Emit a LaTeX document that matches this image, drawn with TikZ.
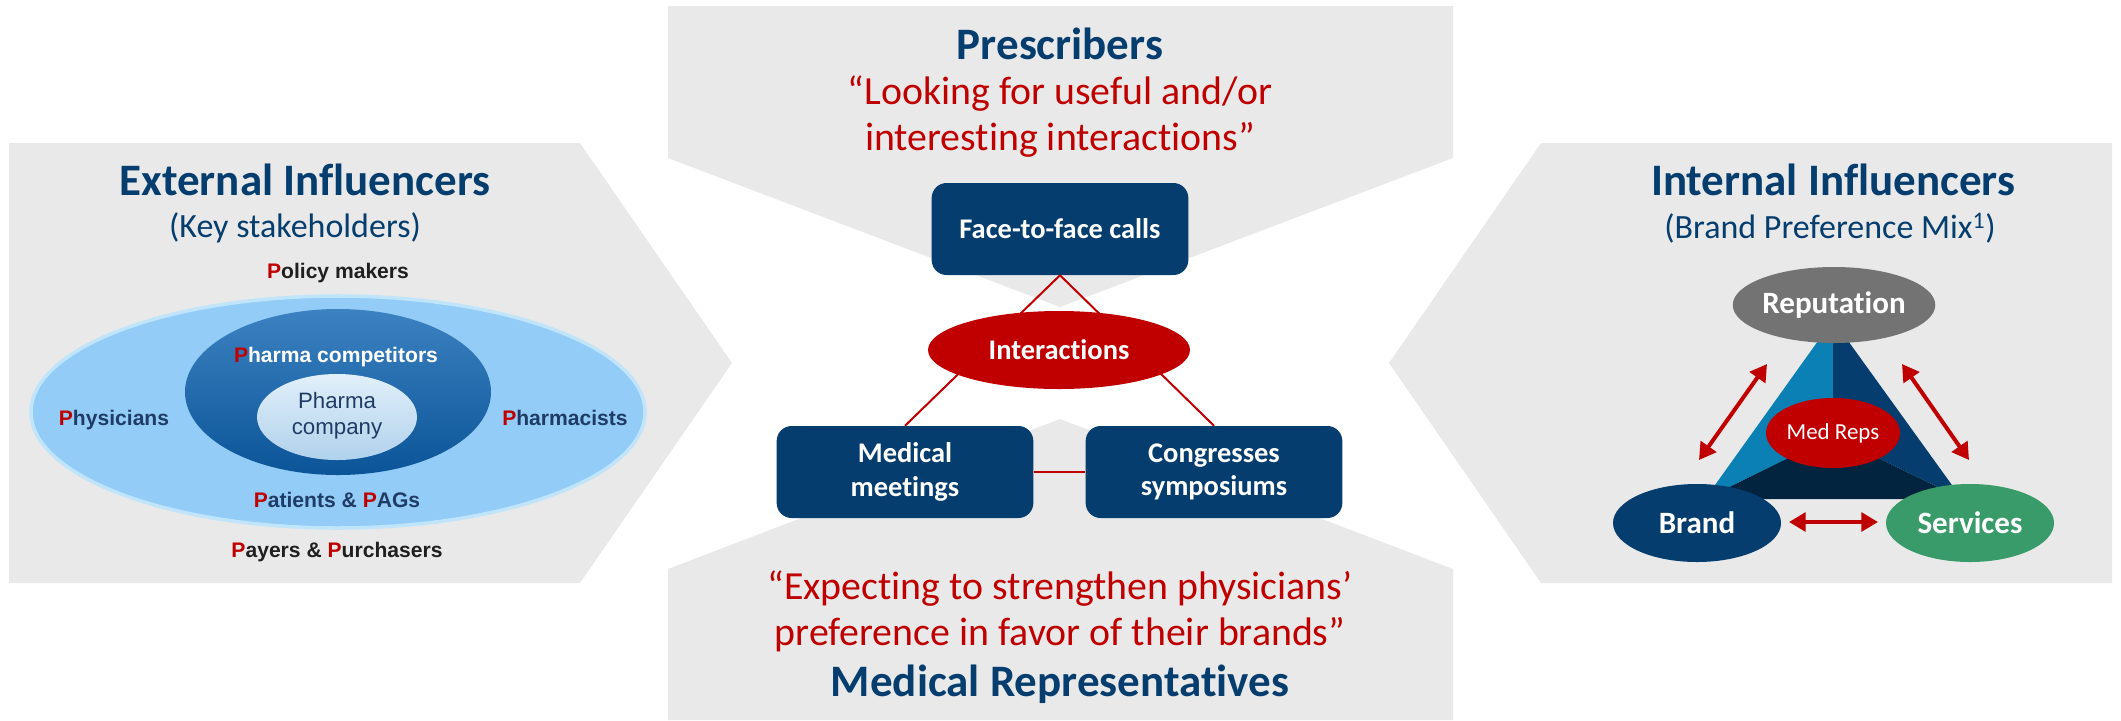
\documentclass[tikz,border=0pt]{standalone}
\usepackage{fontspec}
\setmainfont{Carlito}[Ligatures=NoCommon]
\newfontfamily\arialfont{Liberation Sans}
\usepackage{tikz}
\usetikzlibrary{shapes.geometric,arrows.meta,positioning}

\definecolor{navy}{RGB}{5,62,110}
\definecolor{brandred}{RGB}{192,0,0}
\definecolor{panelgray}{RGB}{233,233,233}
\definecolor{skyfill}{RGB}{146,204,247}
\definecolor{skyrim}{RGB}{192,229,251}
\definecolor{midblue}{RGB}{12,99,178}
\definecolor{coreblue}{RGB}{205,229,246}
\definecolor{inktext}{RGB}{31,60,102}
\definecolor{facetlight}{RGB}{10,128,180}
\definecolor{facetdark}{RGB}{2,36,63}
\definecolor{repgray}{RGB}{115,115,115}
\definecolor{servgreen}{RGB}{56,155,105}

\newcommand{\rp}[1]{\textcolor{brandred}{#1}}

\begin{document}
\begin{tikzpicture}[
  x=0.03cm, y=-0.03cm,
  panel/.style={fill=panelgray},
  headline/.style={font=\fontsize{38.4}{44}\selectfont\bfseries, text=navy},
  subline/.style={font=\fontsize{29}{34}\selectfont, text=navy},
  quote/.style={font=\fontsize{34}{39.3}\selectfont, text=brandred, align=center},
  callbox/.style={
    rectangle, rounded corners=0.45cm, fill=navy, text=white,
    minimum width=7.7cm, minimum height=2.76cm,
    align=center, font=\fontsize{24.3}{28.6}\selectfont\bfseries
  },
  link/.style={brandred, line width=1.7pt},
  stake/.style={font=\arialfont\fontsize{18}{20}\selectfont\bfseries},
  blob/.style={ellipse, inner sep=0pt, text=white},
  twoway/.style={{Triangle[length=0.5cm,width=0.56cm]}-{Triangle[length=0.5cm,width=0.56cm]}, brandred, line width=3.4pt}
]
\useasboundingbox (0,0) rectangle (2121,720);

% ---- Background panels ----
\fill[panel] (9,143) -- (580,143) -- (732,363) -- (580,583) -- (9,583) -- cycle;
\fill[panel] (2112,143) -- (1541,143) -- (1389,363) -- (1541,583) -- (2112,583) -- cycle;
\fill[panel] (668,6) -- (1453,6) -- (1453,158) -- (1060,307) -- (668,158) -- cycle;
\fill[panel] (668,720) -- (1453,720) -- (1453,569) -- (1060,419) -- (668,569) -- cycle;

% ---- External influencers ----
\node[headline] (exttitle) at (305,180) {External Influencers};
\node[subline] (extsub) at (295,228) {(Key stakeholders)};
\node[stake, text=black!88] (policy) at (338,273) {\rp{P}olicy makers};

\node[ellipse, fill=skyfill, draw=skyrim, line width=3pt,
      minimum width=18.42cm, minimum height=6.96cm] (outer) at (338,412) {};
\node[ellipse, top color=midblue!80!white, bottom color=midblue!85!black,
      minimum width=9.18cm, minimum height=4.98cm] (middle) at (338,392) {};
\node[ellipse, top color=coreblue!60!white, bottom color=coreblue!85!midblue,
      minimum width=4.8cm, minimum height=2.58cm] (core) at (337,417) {};

\node[stake, text=white] (rivals) at (336,357) {\rp{P}harma competitors};
\node[font=\arialfont\fontsize{19}{22.2}\selectfont, text=inktext, align=center]
      (company) at (337,416) {Pharma\\company};
\node[stake, text=inktext] (physicians) at (114,420) {\rp{P}hysicians};
\node[stake, text=inktext] (pharmacists) at (565,418) {\rp{P}harmacists};
\node[stake, text=inktext] (patients) at (337,500) {\rp{P}atients \& \rp{P}AGs};
\node[stake, text=black!88] (payers) at (337,552) {\rp{P}ayers \& \rp{P}urchasers};

% ---- Prescribers / medical representatives ----
\node[headline] (presc) at (1060,44) {Prescribers};
\node[quote] (quotetop) at (1060,117) {“Looking for useful and/or\\interesting interactions”};

\node[callbox] (face) at (1060,229) {Face-to-face calls};
\node[callbox] (medmeet) at (905,472) {Medical\\meetings};
\node[callbox] (congress) at (1214,472) {Congresses\\symposiums};

\draw[link] (face.south) -- (medmeet.north);
\draw[link] (face.south) -- (congress.north);
\draw[link] (medmeet.east) -- (congress.west);

\node[blob, fill=brandred, minimum width=7.86cm, minimum height=2.34cm,
      font=\fontsize{24.3}{28}\selectfont\bfseries] (inter) at (1059,350) {Interactions};

\node[quote] (quotebot) at (1060,611) {“Expecting to strengthen physicians’\\preference in favor of their brands”};
\node[headline] (medrep) at (1060,684) {Medical Representatives};

% ---- Internal influencers ----
\node[headline] (inttitle) at (1833,180) {Internal Influencers};
\node[subline] (intsub) at (1830,228) {(Brand Preference Mix\textsuperscript{1})};

\coordinate (apex) at (1833,320);
\coordinate (baseL) at (1705,499);
\coordinate (baseR) at (1962,499);
\coordinate (hub) at (1833,436);
\fill[facetlight] (apex) -- (baseL) -- (hub) -- cycle;
\fill[navy] (apex) -- (hub) -- (baseR) -- cycle;
\fill[facetdark] (baseL) -- (baseR) -- (hub) -- cycle;

\node[blob, fill=brandred, minimum width=4.02cm, minimum height=2.1cm,
      font=\fontsize{19.6}{22}\selectfont] (medreps) at (1833,433) {Med Reps};
\node[blob, fill=repgray, minimum width=5.1cm, minimum height=2.28cm,
      font=\fontsize{26.5}{30}\selectfont\bfseries] (rep) at (1834,305) {Reputation};
\node[blob, fill=navy, minimum width=5.04cm, minimum height=2.34cm,
      font=\fontsize{26.5}{30}\selectfont\bfseries] (brand) at (1697,523) {Brand};
\node[blob, fill=servgreen, minimum width=5.04cm, minimum height=2.34cm,
      font=\fontsize{26.5}{30}\selectfont\bfseries] (serv) at (1970,523) {Services};

\coordinate (lowL) at (1699,460);
\coordinate (upL) at (1767,364);
\coordinate (upR) at (1902,364);
\coordinate (lowR) at (1969,460);
\coordinate (midL) at (1789,522);
\coordinate (midR) at (1878,522);
\draw[twoway] (lowL) -- (upL);
\draw[twoway] (upR) -- (lowR);
\draw[twoway] (midL) -- (midR);

\end{tikzpicture}
\end{document}
